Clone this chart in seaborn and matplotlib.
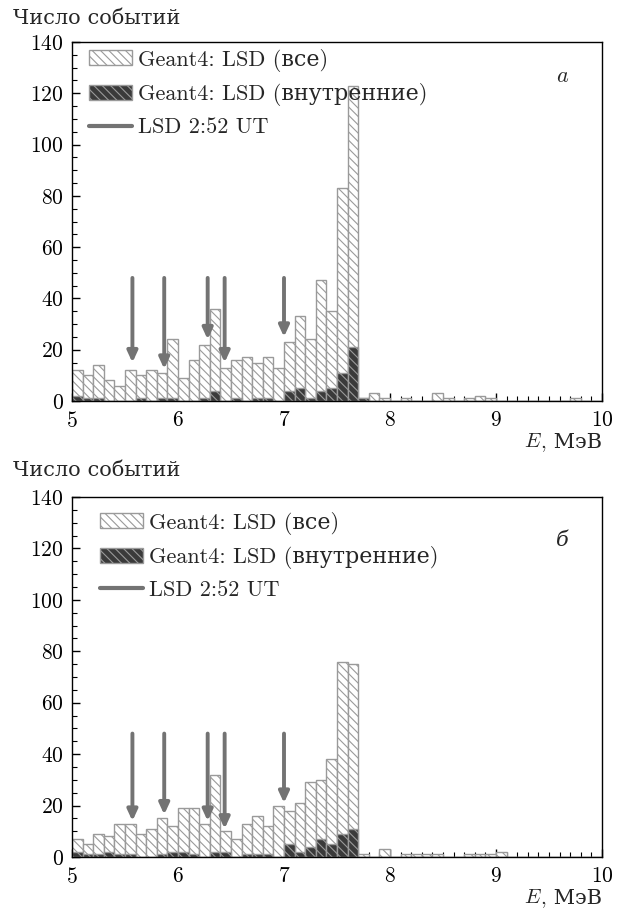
import numpy as np
import matplotlib
matplotlib.use("Agg")
import matplotlib.pyplot as plt
import seaborn as sns
from matplotlib.patches import Patch
from matplotlib.lines import Line2D
from matplotlib.ticker import MultipleLocator
from matplotlib.transforms import IdentityTransform

# ---------------- data ----------------
e_min, e_max, n_bins = 5.0, 10.0, 50

# counts per 0.1 MeV bin, 5.0 ... 9.9
all_a = [12, 10, 14, 8, 6, 12, 10, 12, 11, 24,
         9, 16, 22, 36, 13, 16, 17, 15, 17, 13,
         23, 33, 24, 47, 35, 83, 123, 1, 3, 1,
         0, 1, 0, 0, 3, 1, 0, 1, 2, 1,
         0, 0, 0, 0, 0, 0, 0, 1, 0, 0]
inner_a = [2, 1, 1, 0, 0, 0, 1, 0, 1, 1,
           0, 0, 1, 4, 0, 1, 0, 1, 1, 0,
           4, 5, 1, 4, 5, 11, 21, 1, 0, 0,
           0, 0, 0, 0, 0, 0, 0, 0, 0, 0,
           0, 0, 0, 0, 0, 0, 0, 0, 0, 0]
all_b = [7, 5, 9, 8, 13, 13, 9, 11, 15, 12,
         19, 19, 13, 32, 10, 7, 13, 16, 12, 20,
         18, 21, 29, 30, 38, 76, 75, 1, 0, 3,
         0, 1, 1, 1, 1, 0, 0, 1, 1, 1,
         2, 0, 0, 0, 0, 0, 0, 0, 0, 0]
inner_b = [2, 1, 1, 2, 1, 1, 0, 0, 1, 2,
           2, 1, 0, 2, 2, 0, 1, 1, 1, 0,
           5, 2, 4, 7, 5, 9, 11, 0, 0, 0,
           0, 0, 0, 0, 0, 0, 0, 0, 0, 0,
           0, 0, 0, 0, 0, 0, 0, 0, 0, 0]

# LSD 2:52 UT events (arrows)
lsd_e = [5.57, 5.87, 6.28, 6.44, 7.00]
arrow_top = 48
arrow_tip_a = [15, 12.5, 24, 15, 25]
arrow_tip_b = [14, 16.5, 14, 11, 21]

legend_labels = ["Geant4: LSD (все)", "Geant4: LSD (внутренние)", "LSD 2:52 UT"]
ylabel = "Число событий"
xlabel_sym = "$E$"
xlabel_unit = ", МэВ"
panel_labels = ["a", "б"]

# ---------------- style ----------------
sns.set_style("ticks")
plt.rcParams["font.family"] = ["cmr10", "DejaVu Serif"]
plt.rcParams["mathtext.fontset"] = "cm"
plt.rcParams["axes.formatter.use_mathtext"] = True
plt.rcParams["hatch.linewidth"] = 0.8
plt.rcParams["axes.unicode_minus"] = False

FS = 15
TICK_FS = 15.5
LEG_FS = 16
ALL_EDGE = "#9a9a9a"
INNER_FACE = "#3a3a3a"
ARROW_C = "#737373"
HATCH = "\\\\\\\\"

edges = np.linspace(e_min, e_max, n_bins + 1)
centers = (edges[:-1] + edges[1:]) / 2
bin_list = [float(v) for v in edges]

fig = plt.figure(figsize=(6.26, 9.22), dpi=100)
W, H = 626, 922
def rect(l, t, r, b):
    return [l / W, 1 - b / H, (r - l) / W, (b - t) / H]

ax_a = fig.add_axes(rect(72, 42, 602, 401))
ax_b = fig.add_axes(rect(72, 497, 602, 857))

unit_texts = []
XLAB_Y = -0.128

def draw(ax, vals_all, vals_inner, tips, plabel, leg_x, leg_y, ylab_y):
    sns.histplot(x=centers, weights=np.asarray(vals_all, float), bins=bin_list, ax=ax,
                 facecolor="white", edgecolor=ALL_EDGE, linewidth=1.0,
                 hatch=HATCH, alpha=1)
    sns.histplot(x=centers, weights=np.asarray(vals_inner, float), bins=bin_list, ax=ax,
                 facecolor=INNER_FACE, edgecolor=ALL_EDGE, linewidth=1.0,
                 hatch=HATCH, alpha=1)
    for x, tip in zip(lsd_e, tips):
        ax.annotate("", xy=(x, tip), xytext=(x, arrow_top),
                    arrowprops=dict(arrowstyle="-|>,head_width=0.3,head_length=0.65",
                                    color=ARROW_C, lw=2.8, shrinkA=0, shrinkB=0,
                                    mutation_scale=10))
    ax.set_xlim(e_min, e_max)
    ax.set_ylim(0, 140)
    ax.xaxis.set_major_locator(MultipleLocator(1))
    ax.xaxis.set_minor_locator(MultipleLocator(0.1))
    ax.yaxis.set_major_locator(MultipleLocator(20))
    ax.yaxis.set_minor_locator(MultipleLocator(5))
    ax.tick_params(axis="both", which="both", direction="in", top=False, right=False,
                   labelsize=TICK_FS, colors="black")
    ax.tick_params(which="major", length=6, width=1.0)
    ax.tick_params(axis="y", which="major", pad=6)
    ax.tick_params(axis="x", which="major", pad=7)
    ax.tick_params(which="minor", length=3.5, width=0.8)
    for s in ax.spines.values():
        s.set_linewidth(1.0)
        s.set_color("black")
    ax.set_xlabel("")
    ax.set_ylabel("")
    ax.text(-0.112, ylab_y, ylabel, transform=ax.transAxes, fontsize=FS,
            ha="left", va="center")
    t = ax.text(1.0, XLAB_Y, xlabel_unit, transform=ax.transAxes, fontsize=FS,
                ha="right", va="baseline")
    unit_texts.append((ax, t))
    if plabel == "a":
        ax.text(0.926, 0.905, "$a$", transform=ax.transAxes, fontsize=FS + 1,
                ha="center", va="center")
    else:
        ax.text(0.926, 0.88, plabel, transform=ax.transAxes, fontsize=FS,
                ha="center", va="center", style="italic", family="DejaVu Serif")
    handles = [Patch(facecolor="white", edgecolor=ALL_EDGE, hatch=HATCH, linewidth=1.0),
               Patch(facecolor=INNER_FACE, edgecolor=ALL_EDGE, hatch=HATCH, linewidth=1.0),
               Line2D([0], [0], color=ARROW_C, lw=3)]
    ax.legend(handles, legend_labels, loc="upper left", bbox_to_anchor=(leg_x, leg_y),
              frameon=False, fontsize=LEG_FS, handlelength=1.92, handleheight=0.67,
              handletextpad=0.28, labelspacing=0.52, borderaxespad=0.28,
              borderpad=0.18)

draw(ax_a, all_a, inner_a, arrow_tip_a, panel_labels[0], 0.013, 1.01, 1.065)
draw(ax_b, all_b, inner_b, arrow_tip_b, panel_labels[1], 0.034, 0.988, 1.072)

# place italic E just left of ", МэВ"
fig.canvas.draw()
renderer = fig.canvas.get_renderer()
for ax, t in unit_texts:
    bb = t.get_window_extent(renderer)
    _, y_disp = ax.transAxes.transform((1.0, XLAB_Y))
    fig.text(bb.x0 + 1, y_disp, xlabel_sym, transform=IdentityTransform(),
             fontsize=FS, ha="right", va="baseline")

fig.savefig("out.png", dpi=100)
